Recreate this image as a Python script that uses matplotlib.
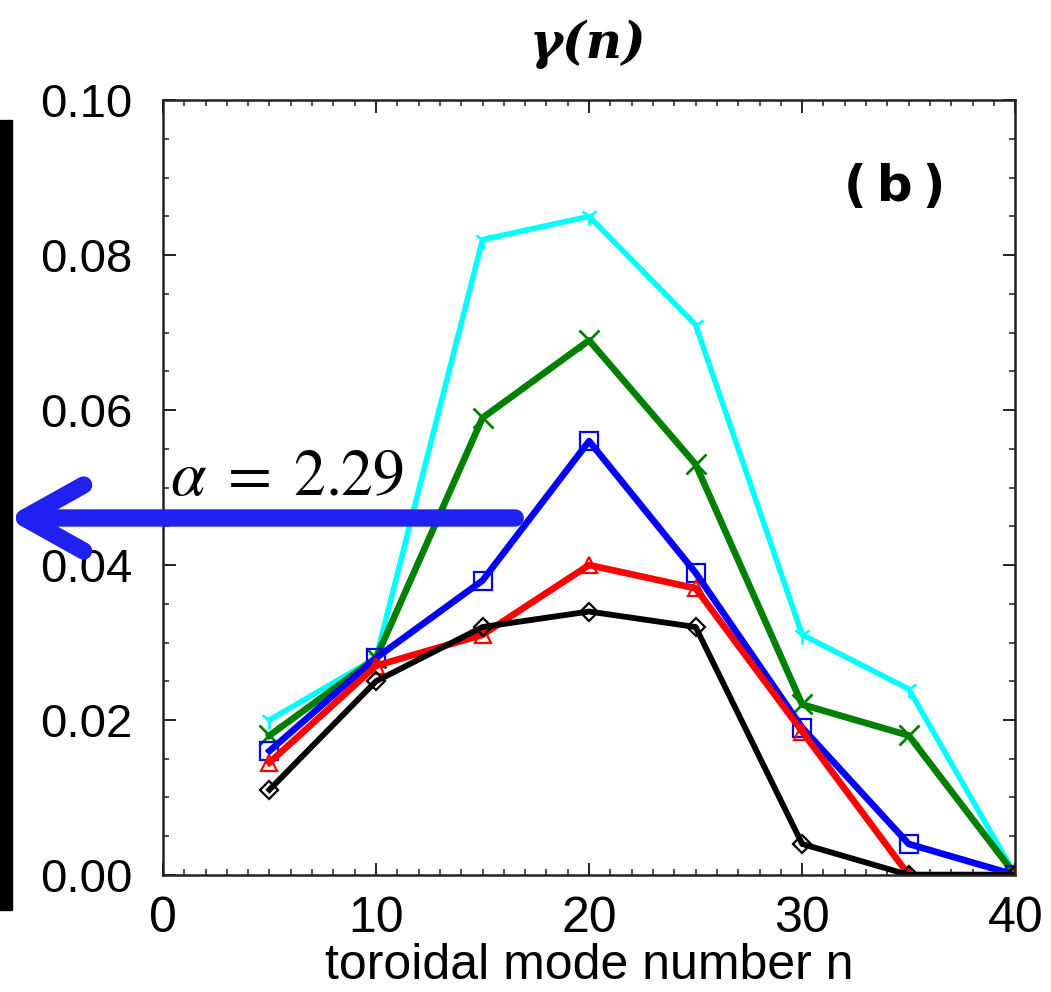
import matplotlib.pyplot as plt
from matplotlib.patches import Rectangle, FancyArrowPatch
from matplotlib.ticker import MultipleLocator

plt.rcParams['mathtext.fontset'] = 'stix'

# toroidal mode number n
n = [5, 10, 15, 20, 25, 30, 35, 40]

# growth rate for each case
g_cyan = [0.020, 0.028, 0.082, 0.085, 0.071, 0.031, 0.024, 0.000]
g_green = [0.018, 0.028, 0.059, 0.069, 0.053, 0.022, 0.018, 0.000]
g_blue = [0.016, 0.028, 0.038, 0.056, 0.039, 0.019, 0.004, 0.000]
g_red = [0.0145, 0.027, 0.031, 0.040, 0.037, 0.0185, 0.000, 0.000]
g_black = [0.011, 0.025, 0.032, 0.034, 0.032, 0.004, 0.000, 0.000]

fig = plt.figure(figsize=(10.51, 9.92), dpi=100)
ax = fig.add_axes([0.155, 0.118, 0.811, 0.781])

ax.plot(n, g_cyan, color='cyan', lw=4, marker='1', ms=13, mew=2)
ax.plot(n, g_green, color='green', lw=4.8, marker='x', ms=15, mew=2)
ax.plot(n, g_blue, color='blue', lw=4.8, marker='s', ms=13, mfc='none', mew=1.6)
ax.plot(n, g_red, color='red', lw=4.8, marker='^', ms=11, mfc='none', mew=1.6)
ax.plot(n, g_black, color='black', lw=4.2, marker='D', ms=9, mfc='none', mew=1.6)

ax.set_xlim(0, 40)
ax.set_ylim(0, 0.10)
ax.xaxis.set_major_locator(MultipleLocator(10))
ax.xaxis.set_minor_locator(MultipleLocator(1))
ax.yaxis.set_major_locator(MultipleLocator(0.02))
ax.yaxis.set_minor_locator(MultipleLocator(0.005))
ax.yaxis.set_major_formatter(plt.FuncFormatter(lambda v, p: '%.2f' % v))
ax.tick_params(which='both', direction='in', top=True, right=True, color='#222222')
ax.tick_params(axis='x', labelsize=36, pad=15)
ax.tick_params(axis='y', labelsize=34, pad=22)
ax.tick_params(which='major', length=9, width=1.4)
ax.tick_params(which='minor', length=4, width=1.1)
for lab in ax.get_xticklabels() + ax.get_yticklabels():
    lab.set_family('Liberation Sans')
for s in ax.spines.values():
    s.set_linewidth(1.8)
    s.set_color('#222222')

ax.set_xlabel('toroidal mode number n', fontsize=36, family='Liberation Sans', labelpad=1)

ax.text(895 / 1051, 1 - 187 / 992, '(\u2009b\u2009)', transform=fig.transFigure,
        ha='center', va='center', fontsize=36, fontweight='bold', family='DejaVu Sans')

# title
fig.text(0.56, 0.955, 'γ(n)', ha='center', va='center', fontsize=36,
         fontweight='bold', style='italic', family='DejaVu Serif')

# black bar at left edge
fig.patches.append(Rectangle((0.0, 1 - 910 / 992), 12 / 1051, 790 / 992,
                             transform=fig.transFigure, color='black'))

# arrow and label
fig.patches.append(FancyArrowPatch(
    (518 / 1051, 1 - 518 / 992), (4 / 1051, 1 - 518 / 992),
    transform=fig.transFigure, arrowstyle='->,head_length=1.7,head_width=0.95',
    color='#2020f0', lw=12.5, capstyle='round', joinstyle='round', mutation_scale=25))
fig.text(170 / 1051, 1 - 495 / 992, r'$\alpha\;=\;2.29$', fontsize=46, ha='left',
         va='baseline')

fig.savefig('out.png', dpi=100)
